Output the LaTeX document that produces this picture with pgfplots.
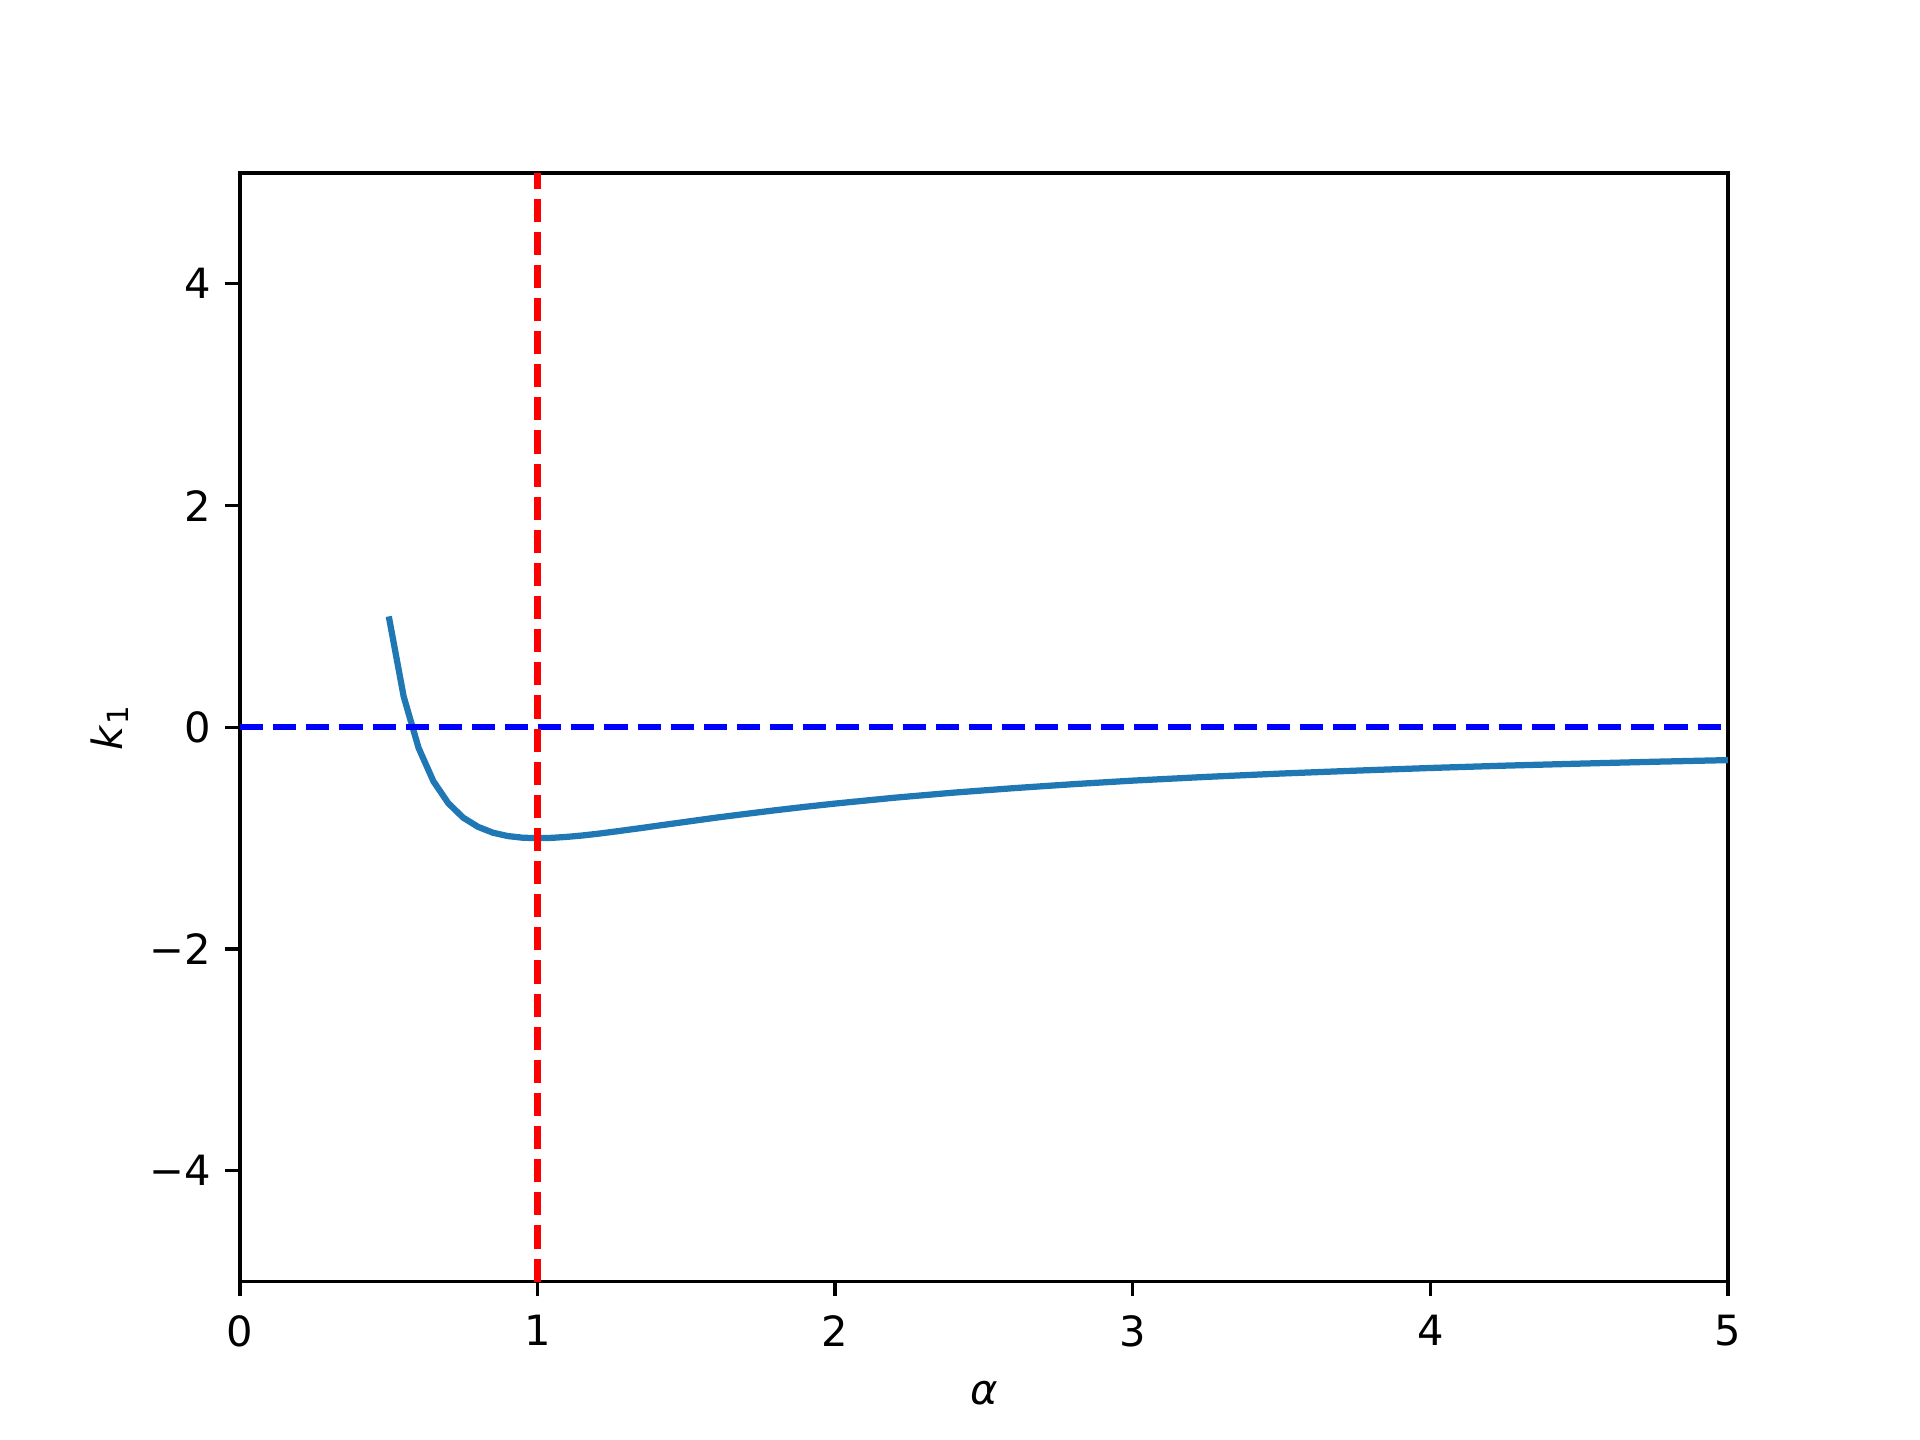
\documentclass[border=0pt]{standalone}
\usepackage{pgfplots}
\pgfplotsset{compat=1.18}
\usepackage{fontspec}
\setmainfont{DejaVu Sans}
\definecolor{mplblue}{HTML}{1F77B4}
\begin{document}
\begin{tikzpicture}
\begin{axis}[
    scale only axis,
    width=357.1pt, height=266.1pt,
    xmin=0, xmax=5, ymin=-5, ymax=5,
    xtick={0,1,2,3,4,5},
    ytick={-4,-2,0,2,4},
    yticklabels={−4,−2,0,2,4},
    tick align=outside,
    tick pos=left,
    major tick length=3.5pt,
    every tick/.style={black, line width=0.8pt},
    axis line style={line width=0.8pt},
    tick label style={font=\fontsize{10}{12}\selectfont},
    xticklabel style={yshift=-1pt},
    /pgf/number format/assume math mode=true,
    xlabel={\textit{α}},
    ylabel={\textit{k}\textsubscript{1}},
    label style={font=\fontsize{10}{12}\selectfont},
    xlabel style={yshift=-1.5pt},
    ylabel style={yshift=-2pt},
    clip=true,
]
\addplot[mplblue, line width=1.5pt, line join=round] coordinates {
(0.50,1.000) (0.55,0.278) (0.60,-0.185) (0.65,-0.487) (0.70,-0.685)
(0.75,-0.815) (0.80,-0.898) (0.85,-0.951) (0.90,-0.981) (0.95,-0.996)
(1.00,-1.000) (1.05,-0.997) (1.10,-0.988) (1.15,-0.976) (1.20,-0.961)
(1.25,-0.944) (1.30,-0.926) (1.35,-0.908) (1.40,-0.889) (1.50,-0.852)
(1.60,-0.815) (1.70,-0.781) (1.80,-0.748) (1.90,-0.717) (2.00,-0.688)
(2.20,-0.635) (2.40,-0.589) (2.60,-0.549) (2.80,-0.513) (3.00,-0.481)
(3.25,-0.447) (3.50,-0.417) (3.75,-0.391) (4.00,-0.367) (4.25,-0.346)
(4.50,-0.328) (4.75,-0.311) (5.00,-0.296)
};
\addplot[blue, line width=1.5pt, dash pattern=on 5.55pt off 2.4pt] coordinates {(0,0) (5,0)};
\addplot[red, line width=1.5pt, dash pattern=on 5.55pt off 2.4pt] coordinates {(1,-5) (1,5)};
\end{axis}
\path[use as bounding box] (-57.6pt,-38.0pt) rectangle (403.2pt,307.6pt);
\end{tikzpicture}
\end{document}
